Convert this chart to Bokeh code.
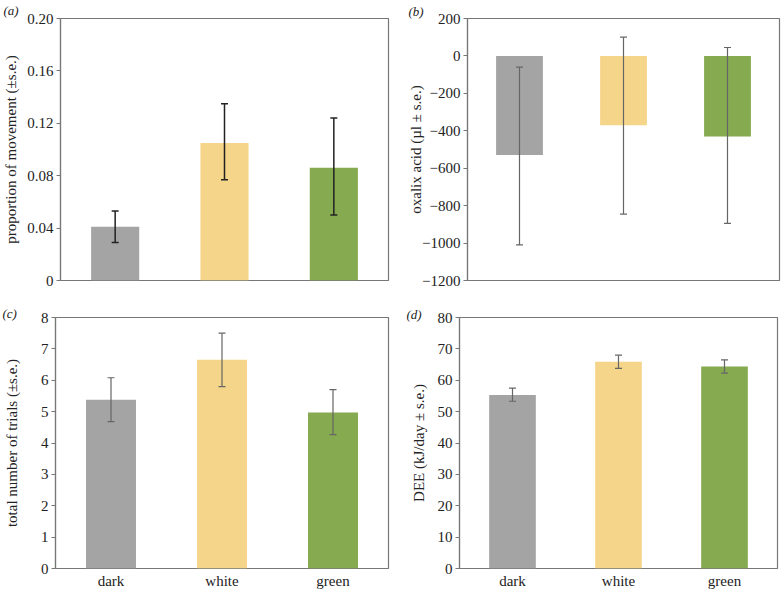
from bokeh.plotting import figure
from bokeh.models import ColumnDataSource, Whisker, TeeHead, Range1d, FactorRange, FixedTicker, Title
from bokeh.layouts import column, row
from bokeh.embed import file_html
from bokeh.resources import INLINE

categories = ["dark", "white", "green"]
bar_colors = ["#a4a4a4", "#f5d589", "#86aa4f"]

# (a) proportion of movement
a_values = [0.041, 0.105, 0.086]
a_lower = [0.029, 0.077, 0.050]
a_upper = [0.053, 0.135, 0.124]
a_ticks = [0, 0.04, 0.08, 0.12, 0.16, 0.20]
a_tick_labels = ["0", "0.04", "0.08", "0.12", "0.16", "0.20"]

# (b) oxalic acid
b_values = [-530, -370, -430]
b_lower = [-1010, -845, -895]
b_upper = [-60, 100, 45]
b_ticks = [-1200, -1000, -800, -600, -400, -200, 0, 200]
b_tick_labels = ["\u22121200", "\u22121000", "\u2212800", "\u2212600", "\u2212400", "\u2212200", "0", "200"]

# (c) total number of trials
c_values = [5.38, 6.65, 4.97]
c_lower = [4.68, 5.80, 4.27]
c_upper = [6.08, 7.50, 5.70]
c_ticks = [0, 1, 2, 3, 4, 5, 6, 7, 8]
c_tick_labels = ["0", "1", "2", "3", "4", "5", "6", "7", "8"]

# (d) DEE
d_values = [55.3, 65.9, 64.4]
d_lower = [53.3, 63.8, 62.3]
d_upper = [57.5, 68.0, 66.5]
d_ticks = [0, 10, 20, 30, 40, 50, 60, 70, 80]
d_tick_labels = ["0", "10", "20", "30", "40", "50", "60", "70", "80"]

FONT = "Liberation Serif"
AXIS_COL = "#777777"


def panel(values, lower, upper, ymin, ymax, ticks, tick_labels, ylabel, tag, tag_offset, tag_standoff,
          width, height, borders, show_x, err_color, err_width, bar_width, label_standoff):
    src = ColumnDataSource(dict(cat=categories, val=values, lower=lower, upper=upper, color=bar_colors))
    p = figure(x_range=FactorRange(*categories, range_padding=0), y_range=Range1d(ymin, ymax),
               width=width, height=height, output_backend="svg", toolbar_location=None,
               min_border_left=borders[0], min_border_right=borders[1],
               min_border_top=borders[2], min_border_bottom=borders[3])
    p.title = Title(text=tag, align="left", offset=tag_offset, standoff=tag_standoff,
                    vertical_align="bottom", text_font=FONT, text_font_style="italic",
                    text_font_size="13px", text_color="#222222")
    p.vbar(x="cat", top="val", bottom=0, width=bar_width, color="color", line_color=None, source=src)
    w = Whisker(base="cat", lower="lower", upper="upper", source=src, line_color=err_color, line_width=err_width,
                upper_head=TeeHead(size=7, line_color=err_color, line_width=err_width),
                lower_head=TeeHead(size=7, line_color=err_color, line_width=err_width))
    w.level = "overlay"
    p.add_layout(w)
    p.xgrid.visible = False
    p.ygrid.visible = False
    p.outline_line_color = AXIS_COL
    p.outline_line_width = 1.2
    p.background_fill_color = "white"
    p.border_fill_color = "white"

    ya = p.yaxis[0]
    ya.ticker = FixedTicker(ticks=ticks)
    ya.major_label_overrides = {t: l for t, l in zip(ticks, tick_labels)}
    ya.axis_line_color = AXIS_COL
    ya.axis_line_width = 1.2
    ya.major_tick_line_color = AXIS_COL
    ya.major_tick_out = 4
    ya.major_tick_in = 0
    ya.minor_tick_line_color = None
    ya.major_label_text_font = FONT
    ya.major_label_text_font_size = "15px"
    ya.major_label_text_color = "#222222"
    ya.major_label_standoff = 3
    ya.axis_label = ylabel
    ya.axis_label_text_font = FONT
    ya.axis_label_text_font_size = "15px"
    ya.axis_label_text_font_style = "normal"
    ya.axis_label_text_color = "#222222"
    ya.axis_label_standoff = label_standoff

    xa = p.xaxis[0]
    if show_x:
        xa.axis_line_color = None
        xa.major_tick_line_color = None
        xa.minor_tick_line_color = None
        xa.major_label_text_font = FONT
        xa.major_label_text_font_size = "15px"
        xa.major_label_text_color = "#222222"
        xa.major_label_standoff = -2
    else:
        xa.visible = False
    return p


pa = panel(a_values, a_lower, a_upper, 0, 0.2, a_ticks, a_tick_labels, "proportion of movement (±s.e.)",
           "(a)", -57, 1, 390, 297, (59, 2, 17, 17), False, "#222222", 1.5, 0.44, 5)
pb = panel(b_values, b_lower, b_upper, -1200, 200, b_ticks, b_tick_labels, "oxalix acid (µl ± s.e.)",
           "(b)", -59, 0, 393, 297, (77, 4, 17, 17), False, "#666666", 1.2, 0.45, -5)
pc = panel(c_values, c_lower, c_upper, 0, 8, c_ticks, c_tick_labels, "total number of trials (±s.e.)",
           "(c)", -53, -7, 390, 294, (55, 2, 20, 0), True, "#666666", 1.2, 0.45, 18)
pd_ = panel(d_values, d_lower, d_upper, 0, 80, d_ticks, d_tick_labels, "DEE (kJ/day ± s.e.)",
            "(d)", -53, -8, 393, 294, (69, 6, 20, 0), True, "#666666", 1.2, 0.44, 8)

layout = column(row(pa, pb), row(pc, pd_))

open("out.html", "w").write(file_html(layout, INLINE))
